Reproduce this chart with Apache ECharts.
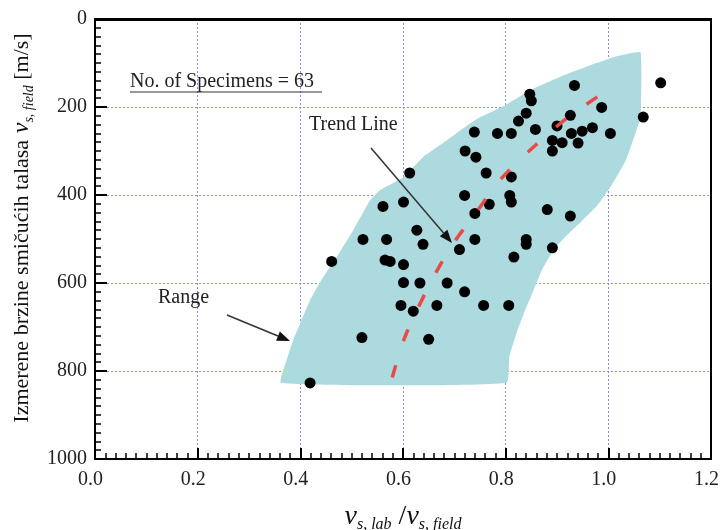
<!DOCTYPE html>
<html><head><meta charset="utf-8">
<script src="https://cdn.jsdelivr.net/npm/echarts@6/dist/echarts.min.js"></script>
<style>html,body{margin:0;padding:0;background:#fff}#c{width:721px;height:530px}</style>
</head><body><div id="c"></div>
<script>
const xTickLabels = ['0.0','0.2','0.4','0.6','0.8','1.0','1.2'];
const yTickLabels = ['0','200','400','600','800','1000'];

const specimenX = [0.419,0.461,0.520,0.522,0.561,0.565,0.575,0.568,0.596,0.601,
  0.601,0.601,0.613,0.620,0.627,0.633,0.639,0.650,0.666,0.686,
  0.710,0.720,0.720,0.721,0.739,0.740,0.740,0.742,0.757,0.762,
  0.768,0.784,0.806,0.808,0.811,0.811,0.811,0.816,0.825,0.840,
  0.840,0.840,0.847,0.850,0.858,0.881,0.891,0.891,0.891,0.900,
  0.910,0.926,0.926,0.928,0.934,0.941,0.949,0.969,0.987,1.004,
  1.068,1.102];
const specimenY = [827,551,724,501,426,548,551,501,651,558,
  599,416,350,664,480,600,512,728,651,600,
  524,401,620,300,257,501,442,314,651,350,
  421,260,651,401,416,359,260,541,232,214,
  501,512,171,186,251,433,276,300,520,243,
  281,219,448,260,151,282,255,247,201,260,
  223,145];

const trendX = [0.579,0.602,0.630,0.661,0.698,0.743,0.792,0.858,0.922,0.998];
const trendY = [815,728,655,583,510,439,362,287,223,162];

const rangeX = [0.363,0.373,0.386,0.402,0.419,0.445,0.471,0.503,0.536,0.555,0.600,0.639,0.678,0.731,0.751,0.799,0.848,0.913,0.965,1.010,1.043,1.063,
  1.063,1.055,1.034,1.004,0.979,0.946,0.917,0.893,0.872,0.854,0.838,0.821,0.807,0.801];
const rangeY = [827,776,730,685,639,586,541,480,412,389,360,314,282,237,223,196,162,128,105,87,78,76,
  223,252,321,382,423,462,494,526,567,617,662,714,769,827];

const serif = '"Liberation Serif","DejaVu Serif",serif';
const chart = echarts.init(document.getElementById('c'));

function arrow(x1,y1,x2,y2){
  const dx=x2-x1, dy=y2-y1, len=Math.sqrt(dx*dx+dy*dy);
  const ux=dx/len, uy=dy/len, L=13, W=5;
  const bx=x2-ux*L, by=y2-uy*L;
  return [
    {type:'line', shape:{x1:x1,y1:y1,x2:bx,y2:by}, style:{stroke:'#333',lineWidth:1.5}, z:50},
    {type:'polygon', shape:{points:[[x2,y2],[bx-uy*W,by+ux*W],[bx+uy*W,by-ux*W]]}, style:{fill:'#111'}, z:50}
  ];
}

const option = {
  animation:false,
  backgroundColor:'#fff',
  grid:{left:95,right:10,top:19,bottom:71,containLabel:false,outerBoundsMode:'none',show:false},
  xAxis:{
    type:'value',min:0,max:1.2,interval:0.2,position:'bottom',
    name:'{v|v}{s|s, lab}{sl| /}{v|v}{s|s, field}',
    nameLocation:'middle',nameGap:42,
    nameTextStyle:{rich:{
      v:{fontFamily:serif,fontStyle:'italic',fontSize:28,color:'#111',lineHeight:32},
      s:{fontFamily:serif,fontStyle:'italic',fontSize:16,color:'#111',lineHeight:32,verticalAlign:'bottom'},
      sl:{fontFamily:serif,fontSize:28,color:'#111',lineHeight:32}
    }},
    axisLine:{onZero:false,lineStyle:{color:'#000',width:2}},
    axisTick:{inside:true,length:11,lineStyle:{color:'#000',width:2}},
    minorTick:{show:true,splitNumber:10,length:6,lineStyle:{color:'#000',width:1.5}},
    axisLabel:{margin:11,padding:[0,9,0,0],fontFamily:serif,fontSize:20,color:'#222',formatter:(v)=>xTickLabels[Math.round(v/0.2)]},
    splitLine:{show:true,showMinLine:false,showMaxLine:false,lineStyle:{color:'#8a8af0',width:1,type:[2,2]}}
  },
  yAxis:{
    type:'value',min:0,max:1000,interval:200,inverse:true,
    name:'{t|Izmerene brzine smičućih talasa}  {v|v}{s|s, field}{t| [m/s]}',
    nameLocation:'middle',nameGap:58,nameRotate:90,
    nameTextStyle:{padding:[0,0,0,22],rich:{
      t:{fontFamily:serif,fontSize:22,color:'#111',lineHeight:28},
      v:{fontFamily:serif,fontStyle:'italic',fontSize:24,color:'#111',lineHeight:28},
      s:{fontFamily:serif,fontStyle:'italic',fontSize:14,color:'#111',lineHeight:28,verticalAlign:'bottom'}
    }},
    axisLine:{onZero:false,lineStyle:{color:'#000',width:2}},
    axisTick:{inside:true,length:12,lineStyle:{color:'#000',width:2}},
    minorTick:{show:true,splitNumber:10,length:6,lineStyle:{color:'#000',width:1.5}},
    axisLabel:{margin:8,fontFamily:serif,fontSize:20,color:'#222',formatter:(v)=>yTickLabels[Math.round(v/200)]},
    splitLine:{show:true,showMinLine:false,showMaxLine:false,lineStyle:{color:'#8a8af0',width:1,type:[2,2]}}
  },
  series:[
    {
      type:'custom',coordinateSystem:'cartesian2d',
      data:[[rangeX[0],rangeY[0]]],
      renderItem:function(params,api){
        const pts = rangeX.map((x,i)=>api.coord([x,rangeY[i]]));
        return {type:'polygon',shape:{points:pts,smooth:0.15},style:{fill:'#addadf'}};
      },
      z:1,silent:true
    },
    {
      type:'scatter',
      data:specimenX.map((x,i)=>[x,specimenY[i]]),
      symbol:'circle',symbolSize:11,
      itemStyle:{color:'#000',opacity:1},z:3
    },
    {
      type:'line',
      data:trendX.map((x,i)=>[x,trendY[i]]),
      smooth:0.3,showSymbol:false,
      lineStyle:{color:'#e84a48',width:3.5,type:[13,25]},z:4
    }
  ],
  graphic:[
    {type:'line',shape:{x1:94,y1:19.5,x2:712,y2:19.5},style:{stroke:'#000',lineWidth:3},z:60},
    {type:'line',shape:{x1:711,y1:19,x2:711,y2:460},style:{stroke:'#000',lineWidth:2},z:60},
    {type:'text',x:130,y:82,style:{text:'No. of Specimens = 63',font:'20px '+serif,fill:'#222',verticalAlign:'middle'},z:50},
    {type:'line',shape:{x1:130,y1:92,x2:322,y2:92},style:{stroke:'#333',lineWidth:1},z:50},
    {type:'text',x:309,y:125,style:{text:'Trend Line',font:'20px '+serif,fill:'#222',verticalAlign:'middle'},z:50},
    {type:'text',x:158,y:298,style:{text:'Range',font:'20px '+serif,fill:'#222',verticalAlign:'middle'},z:50}
  ].concat(arrow(371,148,452,243)).concat(arrow(227,315,290,341))
};
chart.setOption(option);
</script>
</body></html>
